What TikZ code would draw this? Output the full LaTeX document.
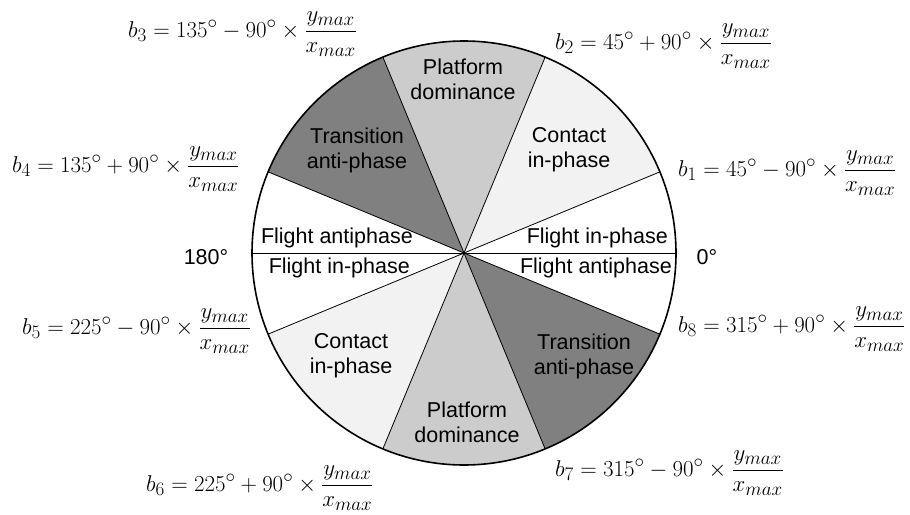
\documentclass[tikz,border=0pt]{standalone}
\usepackage{amsmath}
\usepackage{graphicx}
\usepackage{fontspec}
\setmainfont{Liberation Sans}
\usetikzlibrary{calc}
\newcommand{\eqbox}[1]{\scalebox{0.92}{$#1$}}
\begin{document}
\begin{tikzpicture}[x=1pt,y=-1pt,
  lbl/.style={font=\fontsize{21.5}{26}\selectfont, inner sep=0pt, align=center},
  eq/.style={font=\fontsize{24.88}{28}\selectfont, inner sep=0pt, anchor=west},
  radial/.style={line width=0.8pt},
  rim/.style={line width=1.6pt}]
\definecolor{contactc}{gray}{0.95}
\definecolor{platc}{gray}{0.80}
\definecolor{transc}{gray}{0.50}
\useasboundingbox (0,0) rectangle (910,514);
\coordinate (c) at (464,253);
\def\R{212}
% sectors
\foreach \a/\b/\col in {22.5/67.5/contactc, 67.5/112.5/platc, 112.5/157.5/transc,
                        202.5/247.5/contactc, 247.5/292.5/platc, 292.5/337.5/transc}{
  \fill[\col] (c) -- ++(-\a:\R) arc[start angle=-\a, end angle=-\b, radius=\R] -- cycle;
}
% boundary points
\foreach \n/\a in {p0/0, p1/22.5, p2/67.5, p3/112.5, p4/157.5, p5/180, p6/202.5, p7/247.5, p8/292.5, p9/337.5}{
  \coordinate (\n) at ($(c)+(-\a:\R)$);
}
\foreach \n in {p0,p1,p2,p3,p4,p5,p6,p7,p8,p9}{
  \draw[radial] (c) -- (\n);
}
\draw[rim] (c) circle[radius=\R];
% sector labels
\node[lbl] (pdT) at (463,79) {Platform\\[-1pt]dominance};
\node[lbl] (taT) at (357,150) {Transition\\[-1pt]anti-phase};
\node[lbl] (ciT) at (569,150) {Contact\\[-1pt]in-phase};
\node[lbl, anchor=east] (faL) at (413,238) {Flight antiphase};
\node[lbl, anchor=east] (fiL) at (410,268) {Flight in-phase};
\node[lbl, anchor=east] (fiR) at (668,238) {Flight in-phase};
\node[lbl, anchor=east] (faR) at (672,268) {Flight antiphase};
\node[lbl] (ciB) at (351,356) {Contact\\[-1pt]in-phase};
\node[lbl] (taB) at (584,356) {Transition\\[-1pt]anti-phase};
\node[lbl] (pdB) at (467,422) {Platform\\[-1pt]dominance};
\node[lbl] (d180) at (206,257) {180°};
\node[lbl] (d0) at (707,257) {0°};
% equations
\node[eq] (e3) at (128,34) {\eqbox{b_3=135^\circ-90^\circ\times\dfrac{y_{max}}{x_{max}}}};
\node[eq] (e2) at (555,46) {\eqbox{b_2=45^\circ+90^\circ\times\dfrac{y_{max}}{x_{max}}}};
\node[eq] (e1) at (678,173) {\eqbox{b_1=45^\circ-90^\circ\times\dfrac{y_{max}}{x_{max}}}};
\node[eq] (e4) at (12,169) {\eqbox{b_4=135^\circ+90^\circ\times\dfrac{y_{max}}{x_{max}}}};
\node[eq] (e5) at (22,331) {\eqbox{b_5=225^\circ-90^\circ\times\dfrac{y_{max}}{x_{max}}}};
\node[eq] (e8) at (678,329) {\eqbox{b_8=315^\circ+90^\circ\times\dfrac{y_{max}}{x_{max}}}};
\node[eq] (e6) at (146,488) {\eqbox{b_6=225^\circ+90^\circ\times\dfrac{y_{max}}{x_{max}}}};
\node[eq] (e7) at (555,473) {\eqbox{b_7=315^\circ-90^\circ\times\dfrac{y_{max}}{x_{max}}}};
\end{tikzpicture}
\end{document}
